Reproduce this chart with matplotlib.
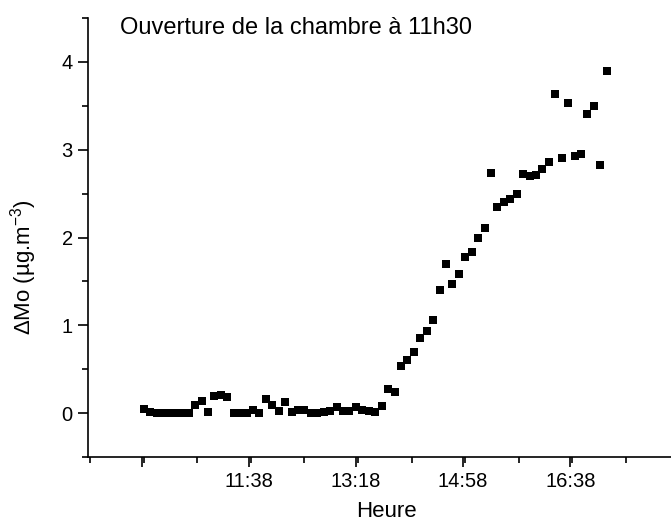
import matplotlib
matplotlib.use('Agg')
import matplotlib.pyplot as plt
from matplotlib.ticker import MultipleLocator

plt.rcParams['font.family'] = ['Liberation Sans', 'DejaVu Sans']
plt.rcParams['mathtext.fontset'] = 'custom'
plt.rcParams['mathtext.rm'] = 'Liberation Sans'
plt.rcParams['mathtext.default'] = 'regular'

# mesures toutes les 6 minutes a partir de 10:00 (minutes depuis minuit)
start_min = 600
step_min = 6
delta_mo = [0.05, 0.01, 0.0, 0.0, 0.0, 0.0, 0.0, 0.0, 0.09, 0.14,
            0.01, 0.19, 0.21, 0.18, 0.0, 0.0, 0.0, 0.04, 0.0, 0.16,
            0.09, 0.02, 0.13, 0.01, 0.03, 0.03, 0.0, 0.0, 0.01, 0.02,
            0.07, 0.02, 0.02, 0.07, 0.04, 0.02, 0.01, 0.08, 0.27, 0.24,
            0.54, 0.60, 0.70, 0.85, 0.93, 1.06, 1.40, 1.70, 1.47, 1.58,
            1.78, 1.83, 2.00, 2.11, 2.73, 2.35, 2.40, 2.44, 2.49, 2.72,
            2.70, 2.71, 2.78, 2.86, 3.63, 2.90, 3.53, 2.93, 2.95, 3.41,
            3.50, 2.83, 3.90]
heure = [start_min + step_min * i for i in range(len(delta_mo))]

tick_pos = [598, 698, 798, 898, 998]
tick_labels = ['', '11:38', '13:18', '14:58', '16:38']

fig = plt.figure(figsize=(6.71, 5.23), dpi=100)
ax = fig.add_axes([88/671, 66/523, 583/671, 439/523])

ax.plot(heure, delta_mo, 's', color='black', markersize=6, markeredgewidth=0)

ax.set_xlim(548, 1092)
ax.set_ylim(-0.5, 4.5)
ax.set_xticks(tick_pos)
ax.set_xticklabels(tick_labels)
ax.xaxis.set_minor_locator(MultipleLocator(50))
ax.set_yticks([0, 1, 2, 3, 4])
ax.yaxis.set_minor_locator(MultipleLocator(0.5))

for s in ['top', 'right']:
    ax.spines[s].set_visible(False)
for s in ['left', 'bottom']:
    ax.spines[s].set_linewidth(1.2)

ax.tick_params(which='major', direction='out', length=7, width=1.2, labelsize=14.5, pad=4)
ax.tick_params(which='minor', direction='out', length=4, width=1.2)

fig.text(386.7/671, 1 - 511.7/523, 'Heure', fontsize=16, ha='center', va='center')
fig.text(23.5/671, 1 - 267/523, r'ΔMo (µg.m$^{-3}$)', fontsize=16, rotation=90,
         ha='center', va='center')

fig.text(120/671, 1 - 28/523, 'Ouverture de la chambre à 11h30', fontsize=17,
         ha='left', va='center')

fig.savefig('out.png', dpi=100)
